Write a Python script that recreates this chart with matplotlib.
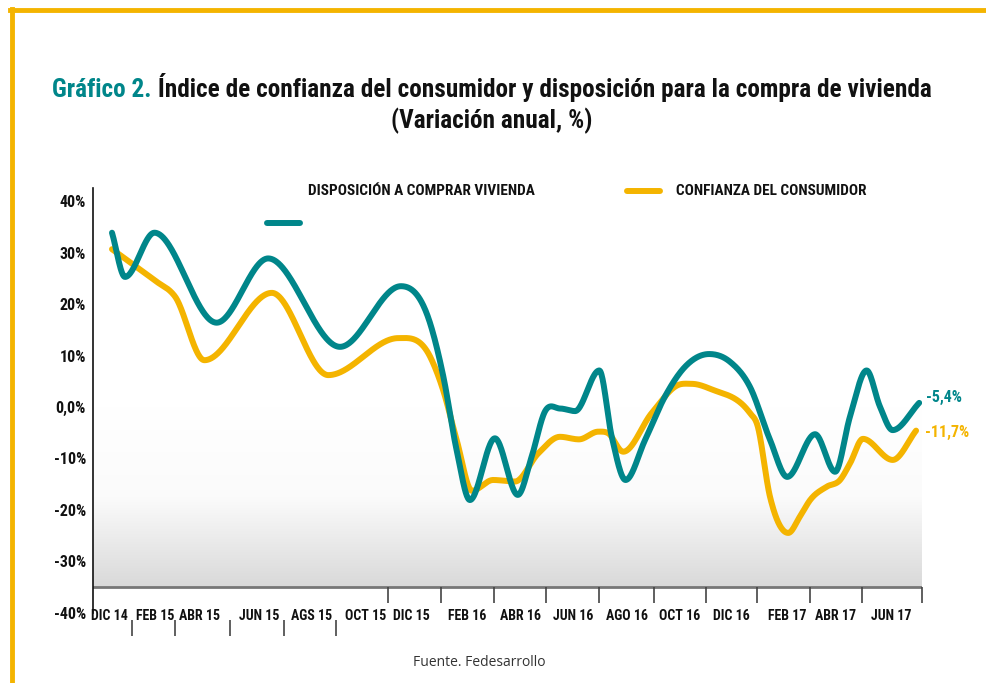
import numpy as np
import matplotlib
matplotlib.use("Agg")
import matplotlib.pyplot as plt
from matplotlib import font_manager as fm
from matplotlib.colors import LinearSegmentedColormap
from matplotlib.lines import Line2D

# ---------------- data ----------------
x_labels = ["DIC 14", "FEB 15", "ABR 15", "JUN 15", "AGS 15", "OCT 15", "DIC 15",
            "FEB 16", "ABR 16", "JUN 16", "AGO 16", "OCT 16", "DIC 16", "FEB 17",
            "ABR 17", "JUN 17"]
# month index (0 = Dic 14) of points
teal_t = [0.00, 0.50, 1.63, 4.02, 6.00, 8.76,
          11.10, 12.22, 12.73, 13.24, 13.75, 14.71, 15.59, 16.12, 16.63, 17.21, 17.79,
          18.72, 19.20, 19.73, 20.48, 21.24, 22.01, 22.94, 23.74, 24.51, 25.28, 25.94,
          27.01, 27.78, 28.35, 28.99, 29.50, 29.99, 31.01]
teal_v = [33.9, 25.3, 33.9, 16.4, 28.9, 11.7,
          23.5, 16.3, 5.9, -8.4, -18.1, -6.1, -17.1, -9.7, -0.9, -0.3, -0.8,
          7.1, -5.8, -14.2, -6.4, 2.0, 7.8, 10.3, 8.8, 3.9, -6.4, -13.6,
          -5.3, -12.6, -1.9, 7.1, 0.1, -4.5, 0.8]
gold_t = [0.00, 1.01, 1.65, 2.42, 3.55, 6.14, 8.31, 11.00, 12.22, 12.72, 13.24,
          13.83, 14.64, 15.48, 16.38, 17.21, 17.94, 18.68, 19.06, 19.64, 20.73, 21.76,
          22.27, 23.05, 24.51, 24.78, 25.28, 25.98, 26.43, 26.82, 27.46, 27.97, 28.35,
          28.85, 29.99, 30.89]
gold_v = [30.7, 27.0, 24.6, 21.5, 9.1, 22.2, 6.2, 13.4, 9.8, 3.3, -6.4,
          -16.3, -14.2, -14.5, -9.0, -5.8, -6.3, -4.8, -5.1, -8.7, -1.2, 4.3,
          4.5, 3.4, -1.2, -3.3, -17.5, -24.5, -21.3, -18.1, -15.5, -14.2, -11.0,
          -6.2, -10.3, -4.6]
series_names = ["DISPOSICIÓN A COMPRAR VIVIENDA", "CONFIANZA DEL CONSUMIDOR"]
end_labels = ["-5,4%", "-11,7%"]
y_ticks = [-40, -30, -20, -10, 0, 10, 20, 30, 40]
y_tick_labels = ["-40%", "-30%", "-20%", "-10%", "0,0%", "10%", "20%", "30%", "40%"]
title_a = "Gráfico 2."
title_b = "Índice de confianza del consumidor y disposición para la compra de vivienda"
subtitle = "(Variación anual, %)"
source = "Fuente. Fedesarrollo"

# ---------------- style ----------------
TEAL = "#00868A"
GOLD = "#F4B400"
names = {f.name for f in fm.fontManager.ttflist}
def pick(*cands):
    for c in cands:
        if c in names:
            return c
    return "DejaVu Sans"
COND = pick("Roboto Condensed", "Liberation Sans Narrow", "DejaVu Sans")
REG = pick("Open Sans", "Noto Sans", "DejaVu Sans")

def smooth(x, y, xs):
    """Hermite spline: zero slope at turning points, weighted mean slope elsewhere."""
    x = np.asarray(x, float); y = np.asarray(y, float)
    h = np.diff(x); d = np.diff(y) / h
    n = len(x); m = np.zeros(n)
    for k in range(1, n - 1):
        if d[k - 1] * d[k] > 0:
            m[k] = (h[k] * d[k - 1] + h[k - 1] * d[k]) / (h[k - 1] + h[k])
    m[0] = d[0]; m[-1] = d[-1]
    idx = np.clip(np.searchsorted(x, xs) - 1, 0, n - 2)
    hh = h[idx]; t = (xs - x[idx]) / hh
    h00 = 2 * t**3 - 3 * t**2 + 1; h10 = t**3 - 2 * t**2 + t
    h01 = -2 * t**3 + 3 * t**2; h11 = t**3 - t**2
    return h00 * y[idx] + h10 * hh * m[idx] + h01 * y[idx + 1] + h11 * hh * m[idx + 1]

W, H = 986, 683
fig = plt.figure(figsize=(W / 100, H / 100), dpi=100)
fx = lambda px: px / W
fy = lambda py: 1 - py / H

# axes mapping: month m -> px 112 + 26.03 m ; value v -> py 407 - 5.14 v
X0, X1 = (93 - 112) / 26.03, (922 - 112) / 26.03
ax = fig.add_axes([fx(93), fy(612.6), fx(922) - fx(93), (612.6 - 188) / H])

grad = np.linspace(1, 0, 256).reshape(-1, 1)
cmap = LinearSegmentedColormap.from_list("g", ["#ffffff", "#fbfbfb", "#d9d9d9"])
ax.imshow(grad, extent=[X0, X1, -35, 0], aspect="auto", cmap=cmap, origin="lower",
          zorder=0, interpolation="bilinear")
ax.set_xlim(X0, X1)
ax.set_ylim(-40, 42.6)

for s in ["top", "right", "bottom"]:
    ax.spines[s].set_visible(False)
ax.spines["left"].set_linewidth(1.2)
ax.spines["left"].set_color("#111111")
ax.axhline(-35, color="#777777", lw=2.0, zorder=1)

xs = np.linspace(gold_t[0], gold_t[-1], 1500)
ax.plot(xs, smooth(gold_t, gold_v, xs), color=GOLD, lw=4.3, solid_capstyle="round", zorder=3)
xs = np.linspace(teal_t[0], teal_t[-1], 1500)
ax.plot(xs, smooth(teal_t, teal_v, xs), color=TEAL, lw=4.3, solid_capstyle="round", zorder=4)

ax.set_xticks([])
ax.set_yticks(y_ticks)
ax.set_yticklabels(y_tick_labels, fontfamily=COND, fontweight="bold", fontsize=11.5,
                   color="#111111")
ax.tick_params(axis="y", length=0, pad=5)

# x tick marks (layout)
upper_ticks = [10.59, 12.63, 14.69, 16.66, 18.72, 20.83, 22.83, 24.79, 26.83, 28.80, 31.12]
lower_ticks = [0.76, 2.42, 4.53, 6.61, 8.59]
ax.vlines(upper_ticks, -38.1, -35, color="#444444", lw=1.2, clip_on=False)
ax.vlines(lower_ticks, -44.6, -41.4, color="#444444", lw=1.2, clip_on=False)
label_pos = [-0.10, 1.65, 3.38, 5.65, 7.68, 9.75, 11.49, 13.63, 15.70, 17.71, 19.78,
             21.82, 23.78, 25.93, 27.78, 29.92]
for lab, m in zip(x_labels, label_pos):
    ax.text(m, -40.7, lab, ha="center", va="center", fontsize=10, fontweight="bold",
            fontfamily=COND, color="#111111", clip_on=False)

# end labels
ax.text(teal_t[-1] + 0.25, teal_v[-1] + 1.1, end_labels[0], color=TEAL, fontsize=11.5,
        fontweight="bold", fontfamily=COND, va="center", ha="left", clip_on=False)
ax.text(gold_t[-1] + 0.35, gold_v[-1] - 0.3, end_labels[1], color=GOLD, fontsize=11.5,
        fontweight="bold", fontfamily=COND, va="center", ha="left", clip_on=False)

# legend
fig.text(fx(308), fy(191), series_names[0], fontsize=11, fontweight="bold",
         fontfamily=COND, va="center", ha="left", color="#111111")
fig.text(fx(676), fy(191), series_names[1], fontsize=11, fontweight="bold",
         fontfamily=COND, va="center", ha="left", color="#111111")
fig.add_artist(Line2D([fx(267), fx(300)], [fy(223), fy(223)], color=TEAL, lw=4.3,
                      solid_capstyle="round", transform=fig.transFigure))
fig.add_artist(Line2D([fx(627), fx(660)], [fy(191), fy(191)], color=GOLD, lw=4.3,
                      solid_capstyle="round", transform=fig.transFigure))

# frame
fig.add_artist(Line2D([fx(10), 1], [fy(10), fy(10)], color=GOLD, lw=3.5,
                      transform=fig.transFigure))
fig.add_artist(Line2D([fx(11.5), fx(11.5)], [fy(8.5), 0], color=GOLD, lw=3.5,
                      transform=fig.transFigure))

# title
TS = 18.2
ta = fig.text(0, fy(97), title_a, fontsize=TS, fontweight="bold", fontfamily=COND,
              color=TEAL, va="baseline", ha="left")
tb = fig.text(0, fy(97), " " + title_b, fontsize=TS, fontweight="bold", fontfamily=COND,
              color="#111111", va="baseline", ha="left")
fig.canvas.draw()
r = fig.canvas.get_renderer()
wa = ta.get_window_extent(r).width
wb = tb.get_window_extent(r).width
start = 492 - (wa + wb) / 2
ta.set_x(fx(start))
tb.set_x(fx(start + wa))
fig.text(fx(492), fy(128), subtitle, fontsize=TS, fontweight="bold", fontfamily=COND,
         color="#111111", va="baseline", ha="center")

fig.text(fx(479), fy(662), source, fontsize=10, fontfamily=REG, color="#333333",
         ha="center", va="center")

fig.savefig("out.png", dpi=100)
